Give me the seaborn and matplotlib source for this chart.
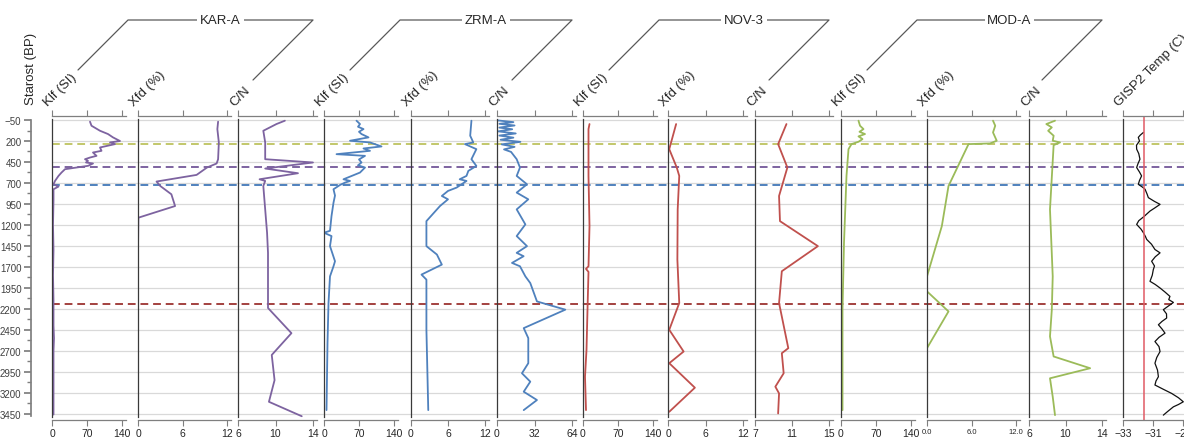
import seaborn as sns
import matplotlib.pyplot as plt
from matplotlib.lines import Line2D

# --- data (age in years BP, value on each panel's scale) ---
kar_klf_age = [-30, 18, 78, 117, 157, 200, 217, 237, 277, 317, 337, 377, 397, 417, 437, 456, 468, 496,
               516, 536, 576, 616, 676, 716, 743, 775, 900, 1200, 1500, 1800, 2100, 2400, 2550, 2700,
               3000, 3300, 3460]
kar_klf_val = [76, 79, 96, 112, 122, 136, 116, 126, 96, 99, 82, 89, 76, 66, 72, 68, 82, 72,
               49, 26, 19, 13, 6, 3, 13, 3, 3, 2, 3, 2, 3, 3, 4, 3,
               3, 3, 3]

kar_xfd_age = [-30, 58, 217, 417, 468, 516, 604, 683, 736, 835, 975, 1114, 1500, 2000, 2500, 2785]
kar_xfd_val = [10.8, 10.7, 10.9, 10.8, 10.6, 9.3, 7.9, 2.5, 3.0, 4.5, 5.0, 0.05, 0, 0, 0, 0]

kar_cn_age = [-42, -2, 78, 217, 417, 456, 528, 584, 656, 676, 736, 1015, 1293, 1533, 2190, 2490,
              2750, 3050, 3308, 3480]
kar_cn_val = [11.0, 10.1, 8.7, 8.9, 8.9, 14.0, 8.9, 12.4, 8.3, 8.9, 8.7, 8.9, 9.1, 9.2, 9.2, 11.7,
              9.6, 9.9, 9.3, 12.8]

zrm_klf_age = [-42, -2, 30, 58, 90, 117, 157, 197, 217, 265, 289, 317, 357, 377, 420, 456, 490, 516,
               576, 656, 676, 696, 724, 775, 850, 935, 1095, 1270, 1293, 1333, 1453, 1633, 1693, 1813,
               2131, 2610, 3407]
zrm_klf_val = [65, 72, 68, 79, 70, 75, 89, 52, 92, 115, 79, 92, 25, 82, 70, 75, 68, 82,
               72, 39, 52, 42, 32, 19, 22, 19, 15, 12, 0, 15, 12, 22, 19, 12,
               9, 7, 5]

zrm_xfd_age = [-42, 137, 217, 237, 297, 417, 497, 556, 616, 656, 676, 755, 795, 855, 895, 975, 1155,
               1453, 1553, 1673, 1792, 1852, 2450, 3407]
zrm_xfd_val = [9.8, 9.6, 10.1, 8.75, 10.6, 9.8, 10.6, 9.3, 9.0, 7.9, 9.0, 7.4, 6.0, 5.0, 6.0, 4.7, 2.5,
               2.5, 4.2, 5.0, 1.7, 2.5, 2.5, 2.8]

zrm_cn_age = [-45, -25, -5, 15, 40, 60, 85, 110, 135, 160, 185, 210, 240, 270, 300, 330,
              417, 516, 616, 716, 815, 895, 1015, 1194, 1333, 1453, 1533, 1573, 1653, 1693,
              1813, 1893, 2112, 2210, 2430, 2549, 2848, 2968, 3068, 3188, 3287, 3407]
zrm_cn_val = [1, 14, 2, 15, 2, 13, 1, 16, 2, 14, 3, 20, 4, 15, 6, 12,
              16.8, 19.6, 16.8, 25.6, 16.8, 26.7, 16.8, 24.2, 16.8, 25.6, 16.8, 22.7, 12.8, 19.6,
              24.2, 28.4, 34.1, 58.3, 22.8, 26.7, 26.7, 21.3, 28.4, 22.8, 34.1, 22.8]

nov_klf_age = [-2, 58, 616, 1214, 1693, 1724, 1760, 2210, 2689, 3009, 3407]
nov_klf_val = [13, 11, 11, 13, 11, 6, 11, 9, 7, 4, 6]

nov_xfd_age = [-2, 297, 516, 616, 1015, 1613, 2131, 2450, 2709, 2848, 3140, 3427]
nov_xfd_val = [1.3, 0.2, 1.4, 1.8, 1.55, 1.5, 1.8, 0.2, 2.5, 0.2, 4.3, 0.2]

nov_cn_age = [-2, 237, 516, 855, 1155, 1453, 1752, 2131, 2669, 2729, 2968, 3128, 3208, 3447]
nov_cn_val = [10.4, 9.5, 10.5, 9.6, 9.7, 13.8, 9.9, 9.6, 10.6, 9.9, 10.1, 9.2, 9.6, 9.5]

mod_klf_age = [-42, 18, 58, 90, 117, 145, 177, 209, 237, 297, 616, 1413, 2210, 3407]
mod_klf_val = [35, 38, 45, 37, 48, 35, 43, 35, 21, 15, 11, 6, 3, 3]

mod_xfd_age = [-42, 18, 98, 197, 229, 237, 736, 1214, 1813, 1992, 2231, 2669]
mod_xfd_val = [8.9, 9.2, 8.9, 9.4, 8.5, 5.6, 2.9, 2.0, 0, 0, 2.9, 0]

mod_cn_age = [-42, -2, 38, 78, 137, 197, 217, 249, 1015, 1813, 2210, 2529, 2768, 2908, 3028, 3248, 3467]
mod_cn_val = [8.85, 7.9, 8.5, 8.1, 8.7, 8.6, 9.4, 8.7, 8.3, 8.6, 8.5, 8.3, 8.7, 12.7, 8.3, 8.6, 8.85]

gisp_age = [98, 130, 157, 200, 250, 297, 350, 417, 470, 516, 570, 616, 670, 716, 750, 775, 830, 875,
            920, 955, 1000, 1035, 1100, 1150, 1194, 1250, 1293, 1340, 1373, 1430, 1493, 1533, 1580,
            1633, 1690, 1733, 1800, 1872, 1910, 1952, 2000, 2052, 2090, 2124, 2170, 2210, 2260, 2310,
            2350, 2390, 2440, 2490, 2540, 2590, 2650, 2709, 2780, 2848, 2930, 3009, 3060, 3108, 3160,
            3208, 3260, 3308, 3340, 3368, 3420, 3467]
gisp_val = [-31.64, -31.85, -31.98, -31.9, -32.1, -32.09, -31.95, -31.87, -32.0, -32.09, -31.9, -31.76,
            -31.9, -31.98, -31.7, -31.53, -31.4, -31.31, -30.9, -30.53, -30.9, -31.2, -31.6, -31.95,
            -32.09, -31.8, -31.64, -31.5, -31.42, -31.1, -30.87, -30.53, -30.85, -31.09, -30.9, -30.98,
            -31.05, -31.2, -30.85, -30.53, -30.2, -29.87, -29.95, -29.64, -30.0, -30.31, -30.1, -30.09,
            -30.4, -30.64, -30.4, -30.2, -30.6, -30.87, -30.6, -30.53, -30.75, -30.87, -30.7, -30.64,
            -30.8, -30.87, -30.3, -29.76, -29.3, -28.98, -29.3, -29.64, -30.0, -30.31]
gisp_mean = -31.6

event_ages = [240, 515, 725, 2140]
event_colors = ['#c2c76a', '#7d63a0', '#4f81bd', '#a3413f']

age_ticks = list(range(-50, 3451, 250))
sites = ['KAR-A', 'ZRM-A', 'NOV-3', 'MOD-A']

W, H = 1184, 439
TOP, BOTTOM = 117, 421
Y_TOP, Y_BOTTOM = -98, 3525

sns.set_theme(style='ticks')
plt.rcParams['font.family'] = ['Liberation Sans', 'DejaVu Sans']

fig = plt.figure(figsize=(W / 100, H / 100), dpi=100)


def px_rect(left, right):
    return [left / W, 1 - BOTTOM / H, (right - left) / W, (BOTTOM - TOP) / H]


def fig_xy(x, y):
    return x / W, 1 - y / H


# background: grid, event lines and the age axis
bg = fig.add_axes(px_rect(52, W))
bg.set_xlim(0, 1)
bg.set_ylim(Y_BOTTOM, Y_TOP)
for a in age_ticks:
    bg.axhline(a, color='#d9d9d9', lw=0.9, zorder=0)
for a, c in zip(event_ages, event_colors):
    bg.axhline(a, color=c, lw=1.4, ls=(0, (4, 2.5)), zorder=1)
for s in ['top', 'right', 'bottom']:
    bg.spines[s].set_visible(False)
bg.spines['left'].set_position(('outward', 15))
bg.spines['left'].set_bounds(-50, 3475)
bg.spines['left'].set_color('#7f7f7f')
bg.set_xticks([])
bg.set_yticks(age_ticks)
bg.set_yticks([a + 125 for a in age_ticks[:-1]], minor=True)
bg.tick_params(axis='y', which='major', length=5, color='#7f7f7f', labelsize=7, labelcolor='#404040', pad=2)
bg.tick_params(axis='y', which='minor', length=3, color='#7f7f7f')
fig.text(31 / W, 1 - 69 / H, 'Starost (BP)', rotation=90, ha='center', va='center', fontsize=9.5)

panels = [
    # left px, last tick px, lo, hi, ticks, title, age, val, colour
    (52, 122, 0, 140, [0, 70, 140], 'Klf (SI)', kar_klf_age, kar_klf_val, '#7d63a0'),
    (138, 227, 0, 12, [0, 6, 12], 'Xfd (%)', kar_xfd_age, kar_xfd_val, '#7d63a0'),
    (238, 313, 6, 14, [6, 10, 14], 'C/N', kar_cn_age, kar_cn_val, '#7d63a0'),
    (324, 394, 0, 140, [0, 70, 140], 'Klf (SI)', zrm_klf_age, zrm_klf_val, '#4f81bd'),
    (411, 485, 0, 12, [0, 6, 12], 'Xfd (%)', zrm_xfd_age, zrm_xfd_val, '#4f81bd'),
    (497, 572, 0, 64, [0, 32, 64], 'C/N', zrm_cn_age, zrm_cn_val, '#4f81bd'),
    (583, 653, 0, 140, [0, 70, 140], 'Klf (SI)', nov_klf_age, nov_klf_val, '#c0504d'),
    (668, 743, 0, 12, [0, 6, 12], 'Xfd (%)', nov_xfd_age, nov_xfd_val, '#c0504d'),
    (755, 829, 7, 15, [7, 11, 15], 'C/N', nov_cn_age, nov_cn_val, '#c0504d'),
    (841, 911, 0, 140, [0, 70, 140], 'Klf (SI)', mod_klf_age, mod_klf_val, '#9bbb59'),
    (927, 1016, 0, 12, [0, 6, 12], 'Xfd (%)', mod_xfd_age, mod_xfd_val, '#9bbb59'),
    (1029, 1102, 6, 14, [6, 10, 14], 'C/N', mod_cn_age, mod_cn_val, '#9bbb59'),
    (1123, 1183, -33, -29, [-33, -31, -29, -27], 'GISP2 Temp (C)', gisp_age, gisp_val, '#111111'),
]

axes = []
for left, tick_end, lo, hi, ticks, title, age, val, color in panels:
    pad = 4 if title != 'GISP2 Temp (C)' else 30
    x_hi = hi + (hi - lo) * pad / (tick_end - left)
    ax = fig.add_axes(px_rect(left, tick_end + pad))
    ax.set_facecolor('none')
    sns.lineplot(x=val, y=age, orient='y', sort=False, estimator=None, color=color,
                 lw=1.3 if title != 'GISP2 Temp (C)' else 0.9, ax=ax)
    ax.set_xlim(lo, x_hi)
    ax.set_ylim(Y_BOTTOM, Y_TOP)
    ax.set_xlabel('')
    ax.set_ylabel('')
    ax.set_yticks([])
    ax.set_xticks(ticks)
    if left == 927:
        ax.set_xticklabels(['0.0', '6.0', '12.0'])
        ax.tick_params(axis='x', labelsize=5.5)
    else:
        ax.tick_params(axis='x', labelsize=7.5)
    ax.tick_params(axis='x', top=True, bottom=True, labeltop=False, direction='out',
                   length=4, width=0.8, color='#7f7f7f', pad=2)
    ax.spines['right'].set_visible(False)
    for s in ['top', 'bottom']:
        ax.spines[s].set_color('#7f7f7f')
        ax.spines[s].set_linewidth(0.9)
    ax.spines['left'].set_color('#3a3a3a')
    ax.spines['left'].set_linewidth(0.9)
    ax.spines['left'].set_bounds(3490, -60)
    fig.text(*fig_xy(left - 2, 109), title, rotation=45, rotation_mode='anchor',
             ha='left', va='bottom', fontsize=9.5)
    axes.append(ax)

axes[-1].axvline(gisp_mean, color='#e05a64', lw=1.1)

# site brackets above each group of three columns
for i, site in enumerate(sites):
    klf_left = panels[3 * i][0]
    cn_end = panels[3 * i + 2][1]
    x_ul = klf_left + 76
    x_ur = cn_end
    xs = [x_ul - 50, x_ul, x_ur, x_ur - 60]
    ys = [71, 21, 21, 81]
    fx, fy = zip(*[fig_xy(x, y) for x, y in zip(xs, ys)])
    fig.add_artist(Line2D(fx, fy, color='#595959', lw=0.9, transform=fig.transFigure))
    fig.text(*fig_xy((x_ul + x_ur) / 2, 21), site, ha='center', va='center', fontsize=9.5,
             bbox=dict(facecolor='white', edgecolor='none', pad=2))

fig.savefig('out.png', dpi=100)
